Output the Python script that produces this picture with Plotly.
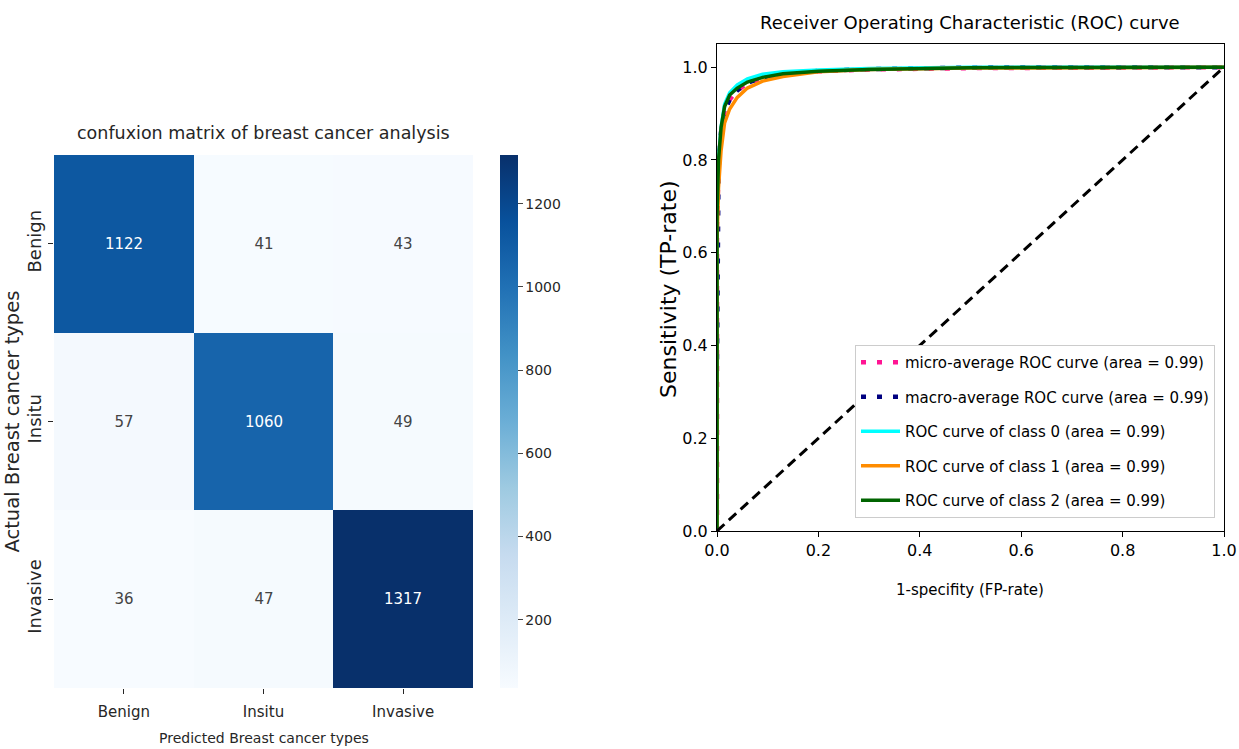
import plotly.graph_objects as go
import plotly.colors as pc

# ---------------- data ----------------
classes = ["Benign", "Insitu", "Invasive"]
cm_benign = [1122, 41, 43]
cm_insitu = [57, 1060, 49]
cm_invasive = [36, 47, 1317]
cbar_ticks = [200, 400, 600, 800, 1000, 1200]

fpr_class0 = [0, 0, 0.003, 0.008, 0.015, 0.025, 0.04, 0.06, 0.09, 0.13, 0.2, 0.3, 0.5, 1.0]
tpr_class0 = [0, 0.70, 0.80, 0.87, 0.92, 0.945, 0.962, 0.975, 0.985, 0.99, 0.994, 0.997, 1.0, 1.0]
fpr_class1 = [0, 0, 0.003, 0.008, 0.015, 0.025, 0.04, 0.06, 0.09, 0.13, 0.2, 0.3, 0.5, 1.0]
tpr_class1 = [0, 0.62, 0.74, 0.82, 0.88, 0.91, 0.935, 0.955, 0.97, 0.98, 0.99, 0.995, 0.998, 1.0]
fpr_class2 = [0, 0, 0.003, 0.008, 0.015, 0.025, 0.04, 0.06, 0.09, 0.13, 0.2, 0.3, 0.5, 1.0]
tpr_class2 = [0, 0.68, 0.80, 0.87, 0.915, 0.94, 0.955, 0.968, 0.978, 0.986, 0.991, 0.995, 0.999, 1.0]
fpr_micro = [0, 0, 0.003, 0.008, 0.015, 0.025, 0.04, 0.06, 0.09, 0.13, 0.2, 0.3, 0.5, 1.0]
tpr_micro = [0, 0.66, 0.78, 0.86, 0.905, 0.93, 0.95, 0.965, 0.977, 0.985, 0.991, 0.995, 0.998, 1.0]
fpr_macro = [0, 0.003, 0.008, 0.015, 0.025, 0.04, 0.06, 0.09, 0.13, 0.2, 0.3, 0.5, 1.0]
tpr_macro = [0.37, 0.78, 0.86, 0.905, 0.93, 0.95, 0.966, 0.978, 0.986, 0.992, 0.996, 0.999, 1.0]
diag_x = [0, 1]
diag_y = [0, 1]

legend_names = [
    "micro-average ROC curve (area = 0.99)",
    "macro-average ROC curve (area = 0.99)",
    "ROC curve of class 0 (area = 0.99)",
    "ROC curve of class 1 (area = 0.99)",
    "ROC curve of class 2 (area = 0.99)",
]

# ---------------- figure ----------------
FONT = "DejaVu Sans"
W, H = 1239, 749


def px(x):
    return x / W


def py(y):
    return 1 - y / H


blues = pc.sequential.Blues
cscale = [[i / (len(blues) - 1), c] for i, c in enumerate(blues)]

z = [cm_benign, cm_insitu, cm_invasive]
fig = go.Figure()
fig.add_trace(go.Heatmap(
    z=z, x=classes, y=classes, colorscale=cscale,
    zmin=min(min(r) for r in z), zmax=max(max(r) for r in z),
    texttemplate="%{z}", textfont=dict(family=FONT, size=15),
    showscale=True, hoverinfo="skip",
    colorbar=dict(
        x=px(500), xanchor="left", xpad=0, ypad=0,
        y=py(688), yanchor="bottom", len=(688 - 155) / H,
        thickness=18, outlinewidth=0,
        tickvals=cbar_ticks, ticks="outside", ticklen=5, tickprefix=" ",
        tickfont=dict(family=FONT, size=14, color="#262626"),
    ),
    xaxis="x", yaxis="y", showlegend=False,
))

series = [
    (fpr_micro, tpr_micro, "deeppink", "5px,11px", 4.5),
    (fpr_macro, tpr_macro, "navy", "5px,11px", 4.5),
    (fpr_class0, tpr_class0, "aqua", "solid", 3.5),
    (fpr_class1, tpr_class1, "darkorange", "solid", 3.5),
    (fpr_class2, tpr_class2, "darkgreen", "solid", 3.5),
]
for i, (fx, ty, col, dash, lw) in enumerate(series):
    fig.add_trace(go.Scatter(
        x=fx, y=ty, mode="lines", name=legend_names[i],
        line=dict(color=col, width=lw, dash=dash),
        legendgroup=f"g{i}", xaxis="x2", yaxis="y2",
    ))
fig.add_trace(go.Scatter(
    x=diag_x, y=diag_y, mode="lines", showlegend=False,
    line=dict(color="black", width=3, dash="10px,6px"),
    xaxis="x2", yaxis="y2",
))

axfont = dict(family=FONT, size=15, color="#262626")
roc_ticks = [0, 0.2, 0.4, 0.6, 0.8, 1.0]
roc_ticktext = ["0.0", "0.2", "0.4", "0.6", "0.8", "1.0"]


def label(text, x, y, size, color, angle=0):
    return dict(text=text, x=px(x), y=py(y), xref="paper", yref="paper",
                showarrow=False, xanchor="center", yanchor="middle", textangle=angle,
                font=dict(family=FONT, size=size, color=color))


fig.update_layout(
    width=W, height=H,
    margin=dict(l=0, r=0, t=0, b=0, autoexpand=False),
    paper_bgcolor="white", plot_bgcolor="white",
    font=dict(family=FONT, color="#262626"),
    xaxis=dict(
        domain=[px(54), px(473)], anchor="y", automargin=False,
        ticks="outside", ticklen=5, tickcolor="#262626", ticklabelstandoff=5,
        tickfont=axfont, showgrid=False, zeroline=False,
    ),
    yaxis=dict(
        domain=[py(688), py(155)], anchor="x", automargin=False,
        autorange="reversed", tickangle=-90,
        ticks="outside", ticklen=5, tickcolor="#262626",
        tickfont=dict(family=FONT, size=18, color="#262626"), showgrid=False, zeroline=False,
    ),
    xaxis2=dict(
        domain=[px(717), px(1224)], anchor="y2", range=[0, 1], automargin=False,
        tickvals=roc_ticks, ticktext=roc_ticktext,
        ticks="outside", ticklen=5, tickcolor="black",
        showline=True, mirror=True, linecolor="black", linewidth=1.2,
        tickfont=dict(family=FONT, size=16, color="black"), showgrid=False, zeroline=False,
    ),
    yaxis2=dict(
        domain=[py(531), py(44)], anchor="x2", range=[0, 1.05], automargin=False,
        tickvals=roc_ticks, ticktext=roc_ticktext,
        ticks="outside", ticklen=5, tickcolor="black",
        showline=True, mirror=True, linecolor="black", linewidth=1.2,
        tickfont=dict(family=FONT, size=16, color="black"), showgrid=False, zeroline=False,
    ),
    legend=dict(
        x=px(855), xanchor="left", y=py(345), yanchor="top",
        bgcolor="white", bordercolor="#cccccc", borderwidth=1,
        font=dict(family=FONT, size=15, color="black"),
        tracegroupgap=12, itemwidth=39,
    ),
    annotations=[
        label("confuxion matrix of breast cancer analysis", 263.5, 133, 17.5, "#262626"),
        label("Receiver Operating Characteristic (ROC) curve", 970, 22, 18, "black"),
        label("Predicted Breast cancer types", 263.5, 738, 14, "#262626"),
        label("Actual Breast cancer types", 12, 421.5, 19.5, "#262626", -90),
        label("1-specifity (FP-rate)", 970, 590, 15, "black"),
        label("Sensitivity (TP-rate)", 668, 289, 22, "black", -90),
    ],
)

fig.write_html("out.html", config={"displayModeBar": False},
               post_script="document.body.style.margin='0';")
